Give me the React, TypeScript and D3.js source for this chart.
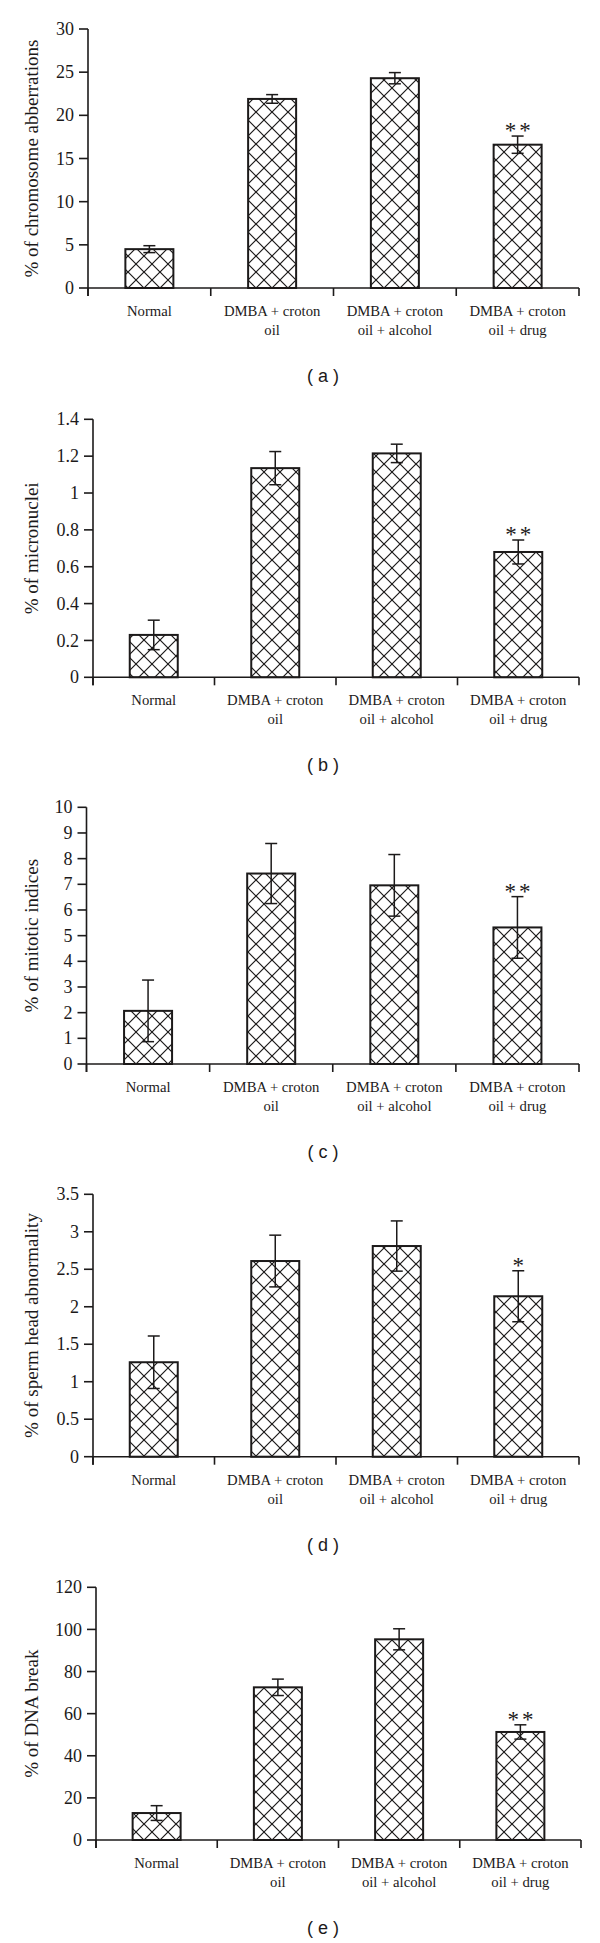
import React from "react";
import * as d3 from "d3";

const categoryLine1 = ["Normal", "DMBA + croton", "DMBA + croton", "DMBA + croton"];
const categoryLine2 = ["", "oil", "oil + alcohol", "oil + drug"];
const categories = ["Normal", "DMBA + croton oil", "DMBA + croton oil + alcohol", "DMBA + croton oil + drug"];

const chromosomeMeans = [4.5, 21.9, 24.3, 16.6];
const chromosomeErrors = [0.4, 0.5, 0.65, 1.0];
const chromosomeTicks = [0, 5, 10, 15, 20, 25, 30];

const micronucleiMeans = [0.23, 1.135, 1.215, 0.68];
const micronucleiErrors = [0.08, 0.09, 0.05, 0.065];
const micronucleiTicks = [0, 0.2, 0.4, 0.6, 0.8, 1, 1.2, 1.4];

const mitoticMeans = [2.07, 7.42, 6.96, 5.32];
const mitoticErrors = [1.2, 1.17, 1.2, 1.2];
const mitoticTicks = [0, 1, 2, 3, 4, 5, 6, 7, 8, 9, 10];

const spermMeans = [1.26, 2.61, 2.81, 2.14];
const spermErrors = [0.35, 0.345, 0.335, 0.34];
const spermTicks = [0, 0.5, 1, 1.5, 2, 2.5, 3, 3.5];

const dnaMeans = [12.8, 72.5, 95.3, 51.3];
const dnaErrors = [3.5, 3.9, 5.0, 3.4];
const dnaTicks = [0, 20, 40, 60, 80, 100, 120];

const chromosomeMarks = ["", "", "", "**"];
const micronucleiMarks = ["", "", "", "**"];
const mitoticMarks = ["", "", "", "**"];
const spermMarks = ["", "", "", "*"];
const dnaMarks = ["", "", "", "**"];

const panels = [
  { id: "a", title: "% of chromosome abberrations", means: chromosomeMeans, errors: chromosomeErrors, ticks: chromosomeTicks, marks: chromosomeMarks,
    axisX: 88, right: 579, top: 29, zero: 288 },
  { id: "b", title: "% of micronuclei", means: micronucleiMeans, errors: micronucleiErrors, ticks: micronucleiTicks, marks: micronucleiMarks,
    axisX: 93, right: 579, top: 419.3, zero: 677.3 },
  { id: "c", title: "% of mitotic indices", means: mitoticMeans, errors: mitoticErrors, ticks: mitoticTicks, marks: mitoticMarks,
    axisX: 86.5, right: 579, top: 807.3, zero: 1064 },
  { id: "d", title: "% of sperm head abnormality", means: spermMeans, errors: spermErrors, ticks: spermTicks, marks: spermMarks,
    axisX: 93, right: 579, top: 1194.3, zero: 1456.7 },
  { id: "e", title: "% of DNA break", means: dnaMeans, errors: dnaErrors, ticks: dnaTicks, marks: dnaMarks,
    axisX: 96, right: 581, top: 1587.3, zero: 1840 },
];

const INK = "#1c1a1a";
const SERIF = "'Liberation Serif', 'Times New Roman', serif";
const SANS = "'Liberation Sans', Arial, sans-serif";
const BAR_W = 48;
const HP = 16;

function Panel({ p }: { p: typeof panels[number] }) {
  const yMax = p.ticks[p.ticks.length - 1];
  const y = d3.scaleLinear().domain([0, yMax]).range([p.zero, p.top]);
  const x = d3.scaleBand<string>().domain(categories).range([p.axisX, p.right]).padding(0);
  const bw = x.bandwidth();
  const boundaries = d3.range(categories.length + 1).map((i) => p.axisX + i * bw);
  const fmt = (v: number) => String(v);
  return (
    <g>
      {categories.map((c, i) => {
        const cx = (x(c) as number) + bw / 2;
        return (
          <rect key={c} x={cx - BAR_W / 2} y={y(p.means[i])} width={BAR_W} height={p.zero - y(p.means[i])}
            fill="url(#hatch)" stroke={INK} strokeWidth={2} />
        );
      })}
      {categories.map((c, i) => {
        const cx = (x(c) as number) + bw / 2;
        const hi = y(p.means[i] + p.errors[i]);
        const lo = y(p.means[i] - p.errors[i]);
        return (
          <g key={c} stroke={INK} strokeWidth={1.5}>
            <line x1={cx} x2={cx} y1={hi} y2={lo} />
            <line x1={cx - 6} x2={cx + 6} y1={hi} y2={hi} />
            <line x1={cx - 6} x2={cx + 6} y1={lo} y2={lo} />
          </g>
        );
      })}
      {categories.map((c, i) =>
        p.marks[i] ? (
          <text key={c} x={(x(c) as number) + bw / 2 + 1.5} y={y(p.means[i] + p.errors[i]) + 2}
            textAnchor="middle" fontFamily={SERIF} fontSize={23} fill={INK} letterSpacing={3}>
            {p.marks[i]}
          </text>
        ) : null
      )}
      <line x1={p.axisX} x2={p.axisX} y1={p.top} y2={p.zero + 8} stroke={INK} strokeWidth={1.6} />
      {p.ticks.map((t) => (
        <g key={t}>
          <line x1={p.axisX - 9} x2={p.axisX} y1={y(t)} y2={y(t)} stroke={INK} strokeWidth={1.6} />
          <text x={p.axisX - 14} y={y(t)} dy="0.34em" textAnchor="end" fontFamily={SERIF} fontSize={18} fill={INK}>
            {fmt(t)}
          </text>
        </g>
      ))}
      <line x1={p.axisX} x2={p.right} y1={p.zero} y2={p.zero} stroke={INK} strokeWidth={1.6} />
      {boundaries.map((bx, i) => (
        <line key={i} x1={bx} x2={bx} y1={p.zero} y2={p.zero + 8} stroke={INK} strokeWidth={1.6} />
      ))}
      {categories.map((c, i) => {
        const cx = (x(c) as number) + bw / 2;
        return (
          <text key={c} textAnchor="middle" fontFamily={SERIF} fontSize={14.7} fill={INK}>
            <tspan x={cx} y={p.zero + 28}>{categoryLine1[i]}</tspan>
            {categoryLine2[i] ? <tspan x={cx} y={p.zero + 47}>{categoryLine2[i]}</tspan> : null}
          </text>
        );
      })}
      <text transform={`translate(38,${(p.top + p.zero) / 2}) rotate(-90)`} textAnchor="middle"
        fontFamily={SERIF} fontSize={19} fill={INK}>
        {p.title}
      </text>
      <text x={323} y={p.zero + 94} textAnchor="middle" fontFamily={SANS} fontSize={18} fill={INK}>
        {`( ${p.id} )`}
      </text>
    </g>
  );
}

export default function App() {
  return (
    <svg width={600} height={1943} style={{ position: "absolute", left: 0, top: 0, background: "#fff" }}>
      <defs>
        <pattern id="hatch" patternUnits="userSpaceOnUse" width={HP} height={HP}>
          <rect width={HP} height={HP} fill="#fff" />
          <path d={`M${-HP / 4},${HP / 4} L${HP / 4},${-HP / 4} M0,${HP} L${HP},0 M${HP * 0.75},${HP * 1.25} L${HP * 1.25},${HP * 0.75}`}
            stroke={INK} strokeWidth={1.2} />
          <path d={`M${-HP / 4},${HP * 0.75} L${HP / 4},${HP * 1.25} M0,0 L${HP},${HP} M${HP * 0.75},${-HP / 4} L${HP * 1.25},${HP / 4}`}
            stroke={INK} strokeWidth={1.2} />
        </pattern>
      </defs>
      <rect width={600} height={1943} fill="#fff" />
      {panels.map((p) => (
        <Panel key={p.id} p={p} />
      ))}
    </svg>
  );
}
